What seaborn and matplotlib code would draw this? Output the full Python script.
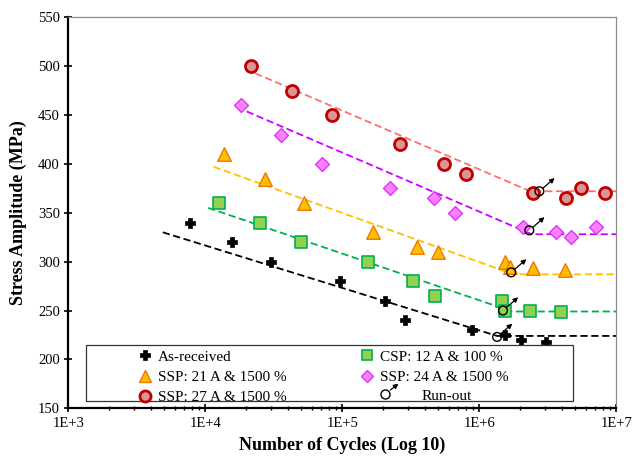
import numpy as np
import matplotlib
matplotlib.use('Agg')
import matplotlib.pyplot as plt
import seaborn as sns
from matplotlib.lines import Line2D
from matplotlib.patches import FancyArrowPatch, Rectangle
from matplotlib.legend_handler import HandlerBase
from matplotlib.ticker import FuncFormatter, LogLocator, NullFormatter

# ---- data ----
ar_n = [7.8e3, 1.56e4, 3.0e4, 9.6e4, 2.04e5, 2.87e5, 8.9e5, 1.55e6, 2.03e6, 3.06e6]
ar_s = [340, 320, 300, 280, 260, 240, 230, 225, 220, 218]

csp_n = [1.27e4, 2.53e4, 4.96e4, 1.55e5, 3.3e5, 4.72e5, 1.47e6, 1.55e6, 2.33e6, 3.96e6]
csp_s = [360, 340, 320, 300, 280, 265, 260, 250, 249, 248]

ssp21_n = [1.36e4, 2.71e4, 5.3e4, 1.68e5, 3.53e5, 5.02e5, 1.55e6, 1.68e6, 2.45e6, 4.25e6]
ssp21_s = [410, 385, 360, 330, 315, 310, 300, 295, 293, 291]

ssp24_n = [1.82e4, 3.6e4, 7.06e4, 2.23e5, 4.67e5, 6.7e5, 2.08e6, 3.64e6, 4.68e6, 7.08e6]
ssp24_s = [460, 430, 400, 375, 365, 350, 335, 330, 325, 335]

ssp27_n = [2.14e4, 4.28e4, 8.4e4, 2.66e5, 5.52e5, 8.0e5, 2.46e6, 4.3e6, 5.54e6, 8.35e6]
ssp27_s = [500, 475, 450, 420, 400, 390, 370, 365, 375, 370]

# fitted curves: (start N, start S, knee N, endurance S), flat to 1E+7
ar_fit = (4.9e3, 330, 1.35e6, 224)
csp_fit = (1.05e4, 355, 1.74e6, 249)
ssp21_fit = (1.15e4, 397, 1.78e6, 287)
ssp24_fit = (1.7e4, 458, 2.42e6, 328)
ssp27_fit = (1.96e4, 497, 2.36e6, 372)
n_end = 1e7

runout_n = [1.35e6, 1.49e6, 1.71e6, 2.32e6, 2.75e6]
runout_s = [223, 250, 289, 332, 372]

series = [
    dict(label='As-received', n=ar_n, s=ar_s, fit=ar_fit, marker='P', size=60,
         fc='black', ec='black', lw=0.5, line='black'),
    dict(label='CSP: 12 A & 100 %', n=csp_n, s=csp_s, fit=csp_fit, marker='s', size=72,
         fc='#92d050', ec='#00b050', lw=1.2, line='#00b050'),
    dict(label='SSP: 21 A & 1500 %', n=ssp21_n, s=ssp21_s, fit=ssp21_fit, marker='^', size=95,
         fc='#ffc000', ec='#f07800', lw=1.0, line='#ffc000'),
    dict(label='SSP: 24 A & 1500 %', n=ssp24_n, s=ssp24_s, fit=ssp24_fit, marker='D', size=50,
         fc='#ff80ff', ec='#dd33ff', lw=1.0, line='#cc00ff'),
    dict(label='SSP: 27 A & 1500 %', n=ssp27_n, s=ssp27_s, fit=ssp27_fit, marker='o', size=75,
         fc='#d99694', ec='#c00000', lw=2.0, line='#ff6f6f'),
]

sns.set_theme(style='white', rc={'axes.labelcolor': 'black', 'text.color': 'black',
                                 'xtick.color': 'black', 'ytick.color': 'black'})
plt.rcParams['font.family'] = ['Liberation Serif', 'DejaVu Serif']

fig = plt.figure(figsize=(6.32, 4.59), dpi=100)
ax = fig.add_axes([0.108, 0.1105, 0.867, 0.852])

for d in series:
    n0, s0, nk, se = d['fit']
    sns.lineplot(x=[n0, nk, n_end], y=[s0, se, se], sort=False, estimator=None,
                 color=d['line'], lw=1.3, ax=ax, zorder=2)
    ax.lines[-1].set_dashes((4, 2))
    sns.scatterplot(x=d['n'], y=d['s'], marker=d['marker'], s=d['size'], color=d['fc'],
                    edgecolor=d['ec'], linewidth=d['lw'], ax=ax, zorder=4, legend=False)

# run-out points with arrows
ax.scatter(runout_n, runout_s, s=40, facecolors='none', edgecolors='black', linewidths=1.0, zorder=5)
for n, s in zip(runout_n, runout_s):
    ax.annotate('', xy=(n, s), xycoords='data', xytext=(11, 9.5), textcoords='offset points',
                arrowprops=dict(arrowstyle='<|-', color='black', lw=0.9, mutation_scale=7,
                                shrinkA=0, shrinkB=3), zorder=5)

ax.set_xscale('log')
ax.set_xlim(1e3, 1e7)
ax.set_ylim(150, 550)
ax.set_yticks(np.arange(150, 551, 50))
ax.xaxis.set_major_locator(LogLocator(base=10, numticks=10))
ax.xaxis.set_minor_locator(LogLocator(base=10, subs=np.arange(2, 10), numticks=20))
ax.xaxis.set_minor_formatter(NullFormatter())
ax.xaxis.set_major_formatter(FuncFormatter(lambda v, p: f'1E+{int(round(np.log10(v)))}'))

ax.tick_params(axis='both', which='major', direction='inout', length=6, width=1.2,
               labelsize=10.5, pad=3, bottom=True, left=True)
ax.tick_params(axis='x', which='minor', direction='inout', length=3.5, width=1.0, bottom=True)

for side in ['left', 'bottom']:
    ax.spines[side].set_color('black')
    ax.spines[side].set_linewidth(1.6)
for side in ['top', 'right']:
    ax.spines[side].set_color('#8c8c8c')
    ax.spines[side].set_linewidth(0.9)

ax.set_xlabel('Number of Cycles (Log 10)', fontsize=13, fontweight='bold', labelpad=5)
ax.set_ylabel('Stress Amplitude (MPa)', fontsize=13, fontweight='bold', labelpad=8)

# ---- legend ----
ax.add_patch(Rectangle((0.0323, 0.0187), 0.889, 0.143, transform=ax.transAxes,
                       facecolor='white', edgecolor='#333333', lw=0.9, zorder=6))


def marker_handle(d):
    ms = {'P': 7, 's': 7.5, '^': 8.5, 'D': 6.5, 'o': 8}[d['marker']]
    return Line2D([], [], ls='none', marker=d['marker'], ms=ms, mfc=d['fc'],
                  mec=d['ec'], mew=d['lw'])


class RunOutHandler(HandlerBase):
    def create_artists(self, legend, orig_handle, xdescent, ydescent, width, height, fontsize, trans):
        cx = 0.25 * width - xdescent
        cy = 0.5 * height - ydescent
        circ = Line2D([cx], [cy], ls='none', marker='o', ms=6.5, mfc='none', mec='black',
                      mew=1.0, transform=trans)
        arrow = FancyArrowPatch((cx + 2.5, cy + 2.0), (cx + 11.5, cy + 9.0), arrowstyle='-|>',
                                mutation_scale=7, lw=0.9, color='black', transform=trans)
        return [circ, arrow]


leg_kw = dict(frameon=False, fontsize=11, handlelength=1.0, handletextpad=0.35,
              labelspacing=0.43, borderpad=0, borderaxespad=0)
col1 = [series[0], series[2], series[4]]
col2 = [series[1], series[3]]
leg1 = ax.legend([marker_handle(d) for d in col1], [d['label'] for d in col1],
                 loc='upper left', bbox_to_anchor=(0.126, 0.149), **leg_kw)
leg1.set_zorder(7)
ax.add_artist(leg1)
leg2 = ax.legend([marker_handle(d) for d in col2], [d['label'] for d in col2],
                 loc='upper left', bbox_to_anchor=(0.531, 0.149), **leg_kw)
leg2.set_zorder(7)
ax.add_artist(leg2)
runout_handle = Line2D([], [])
leg3 = ax.legend([runout_handle], ['Run-out'], handler_map={Line2D: RunOutHandler()},
                 loc='center left', bbox_to_anchor=(0.5636, 0.0315), frameon=False, fontsize=11,
                 handlelength=2.0, handletextpad=0.94, borderpad=0, borderaxespad=0)
leg3.set_zorder(7)

fig.savefig('out.png', dpi=100)
